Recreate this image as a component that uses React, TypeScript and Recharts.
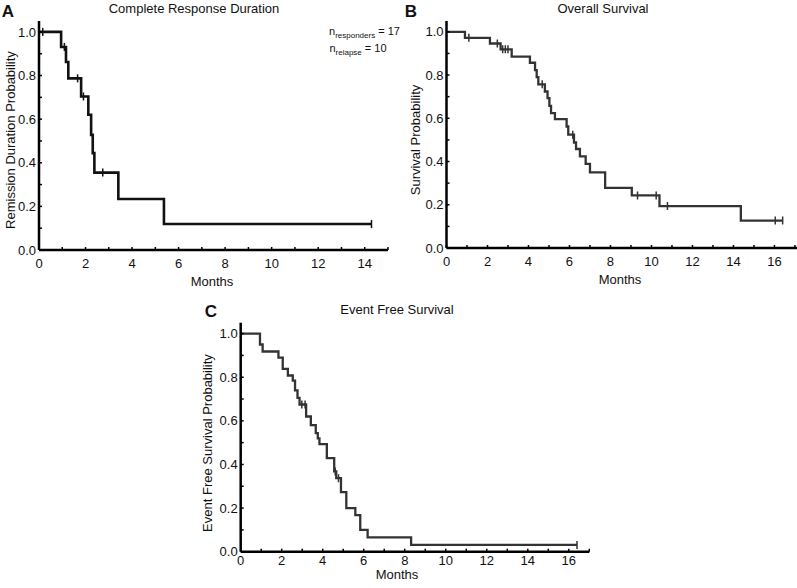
import React from 'react';
import { ComposedChart, Line, Scatter, XAxis, YAxis } from 'recharts';

// Complete response duration (panel A)
const crdTimes = [0, 0.95, 1.16, 1.26, 1.81, 2.12, 2.24, 2.31, 2.38, 3.41, 5.37, 14.29];
const crdProb = [1, 0.931, 0.862, 0.787, 0.704, 0.62, 0.528, 0.444, 0.355, 0.234, 0.119, 0.119];
const crdCensorTimes = [0.16, 1.09, 1.66, 1.91, 2.74, 14.29];
const crdCensorProb = [1, 0.931, 0.787, 0.704, 0.355, 0.119];

// Overall survival (panel B)
const osTimes = [0, 0.9, 2.12, 2.64, 3.18, 4.07, 4.32, 4.4, 4.48, 4.8, 4.93, 5.02, 5.1, 5.29, 5.86, 5.94, 6.22, 6.32, 6.51, 6.79, 7.0, 7.74, 9.04, 10.39, 14.36, 16.4];
const osProb = [1, 0.972, 0.946, 0.919, 0.885, 0.857, 0.823, 0.79, 0.757, 0.724, 0.693, 0.657, 0.624, 0.596, 0.562, 0.524, 0.488, 0.458, 0.424, 0.389, 0.35, 0.278, 0.243, 0.194, 0.127, 0.127];
const osCensorTimes = [1.09, 2.48, 2.74, 2.87, 3.0, 4.67, 6.16, 9.32, 10.23, 10.78, 16.04, 16.4];
const osCensorProb = [0.972, 0.946, 0.919, 0.919, 0.919, 0.757, 0.524, 0.243, 0.243, 0.194, 0.127, 0.127];

// Event free survival (panel C)
const efsTimes = [0, 0.94, 1.07, 1.84, 2.05, 2.3, 2.54, 2.65, 2.77, 2.87, 3.19, 3.42, 3.66, 3.76, 3.84, 4.2, 4.56, 4.66, 4.89, 5.15, 5.59, 5.83, 6.19, 8.31, 16.4];
const efsProb = [1, 0.95, 0.918, 0.89, 0.838, 0.808, 0.784, 0.74, 0.705, 0.675, 0.62, 0.58, 0.544, 0.52, 0.493, 0.429, 0.368, 0.337, 0.273, 0.2, 0.168, 0.1, 0.066, 0.031, 0.031];
const efsCensorTimes = [2.98, 3.14, 4.61, 4.77, 16.4];
const efsCensorProb = [0.675, 0.675, 0.368, 0.337, 0.031];

const probTicks = [0, 0.1, 0.2, 0.3, 0.4, 0.5, 0.6, 0.7, 0.8, 0.9, 1.0];
const monthTicksA = [0, 1, 2, 3, 4, 5, 6, 7, 8, 9, 10, 11, 12, 13, 14, 15];
const monthTicksBC = [0, 1, 2, 3, 4, 5, 6, 7, 8, 9, 10, 11, 12, 13, 14, 15, 16, 17];

const FONT = '"Liberation Sans", Arial, sans-serif';

const toPoints = (ts: number[], ps: number[]) => ts.map((t, i) => ({ t, p: ps[i] }));

const CensorMark = (props: any) => {
  const { cx, cy, stroke } = props;
  if (cx == null || cy == null) return null;
  return <line x1={cx} x2={cx} y1={cy - 4} y2={cy + 4} stroke={stroke} strokeWidth={1.5} />;
};

interface PanelProps {
  left: number;
  top: number;
  width: number;
  height: number;
  yAxisWidth: number;
  xAxisHeight: number;
  xTickMargin: number;
  marginTop: number;
  marginRight: number;
  xMax: number;
  xTicks: number[];
  times: number[];
  probs: number[];
  censorTimes: number[];
  censorProbs: number[];
  color: string;
  lineWidth: number;
}

function Panel(p: PanelProps) {
  const tickStyle = { fontSize: 13, fill: '#111', fontFamily: FONT };
  return (
    <div style={{ position: 'absolute', left: p.left, top: p.top }}>
      <ComposedChart
        width={p.width}
        height={p.height}
        margin={{ top: p.marginTop, right: p.marginRight, left: 0, bottom: 0 }}
      >
        <XAxis
          type="number"
          dataKey="t"
          domain={[0, p.xMax]}
          ticks={p.xTicks}
          interval={0}
          allowDataOverflow
          height={p.xAxisHeight}
          stroke="#000"
          axisLine={{ stroke: '#000', strokeWidth: 2.5 }}
          tickLine={{ stroke: '#000', strokeWidth: 1.5 }}
          tickSize={-3}
          tickMargin={p.xTickMargin}
          tick={tickStyle}
          tickFormatter={(v: number) => (v % 2 === 0 ? String(v) : '')}
        />
        <YAxis
          type="number"
          dataKey="p"
          domain={[0, 1.05]}
          ticks={probTicks}
          interval={0}
          allowDataOverflow
          width={p.yAxisWidth}
          axisLine={{ stroke: '#000', strokeWidth: 2.5 }}
          tickLine={{ stroke: '#000', strokeWidth: 1.5 }}
          tickSize={-3}
          tickMargin={6}
          tick={tickStyle}
          tickFormatter={(v: number) => (Math.round(v * 10) % 2 === 0 ? v.toFixed(1) : '')}
        />
        <Line
          data={toPoints(p.times, p.probs)}
          dataKey="p"
          type="stepAfter"
          stroke={p.color}
          strokeWidth={p.lineWidth}
          dot={false}
          isAnimationActive={false}
        />
        <Scatter
          data={toPoints(p.censorTimes, p.censorProbs)}
          dataKey="p"
          stroke={p.color}
          shape={(s: any) => <CensorMark {...s} stroke={p.color} />}
          isAnimationActive={false}
        />
      </ComposedChart>
    </div>
  );
}

const textBase: React.CSSProperties = {
  position: 'absolute',
  fontFamily: FONT,
  fontSize: 13,
  color: '#111',
  whiteSpace: 'nowrap',
  lineHeight: '13px',
};

function Label({ x, y, text, rotate, size, bold }: { x: number; y: number; text: string; rotate?: boolean; size?: number; bold?: boolean }) {
  return (
    <div
      style={{
        ...textBase,
        left: x,
        top: y,
        fontSize: size || 13,
        fontWeight: bold ? 700 : 400,
        transform: `translate(-50%, -50%)${rotate ? ' rotate(-90deg)' : ''}`,
      }}
    >
      {text}
    </div>
  );
}

export default function App() {
  return (
    <div style={{ position: 'absolute', left: 0, top: 0, width: 797, height: 588, background: '#fff', overflow: 'hidden' }}>
      <Panel
        left={0} top={0} width={400} height={285}
        yAxisWidth={39} xAxisHeight={35} xTickMargin={12} marginTop={21} marginRight={12}
        xMax={15} xTicks={monthTicksA}
        times={crdTimes} probs={crdProb} censorTimes={crdCensorTimes} censorProbs={crdCensorProb}
        color="#111" lineWidth={2.6}
      />
      <Panel
        left={400} top={0} width={397} height={285}
        yAxisWidth={46.5} xAxisHeight={37} xTickMargin={12} marginTop={21} marginRight={0}
        xMax={17.1} xTicks={monthTicksBC}
        times={osTimes} probs={osProb} censorTimes={osCensorTimes} censorProbs={osCensorProb}
        color="#333" lineWidth={2.3}
      />
      <Panel
        left={190} top={300} width={400} height={288}
        yAxisWidth={50.7} xAxisHeight={36.3} xTickMargin={7} marginTop={22.7} marginRight={0.7}
        xMax={17} xTicks={monthTicksBC}
        times={efsTimes} probs={efsProb} censorTimes={efsCensorTimes} censorProbs={efsCensorProb}
        color="#333" lineWidth={2.3}
      />

      <Label x={8} y={11} text="A" size={17} bold />
      <Label x={411} y={11} text="B" size={17} bold />
      <Label x={211} y={311} text="C" size={17} bold />

      <Label x={194} y={8} text="Complete Response Duration" />
      <Label x={603} y={8} text="Overall Survival" />
      <Label x={397} y={309} text="Event Free Survival" />

      <Label x={10} y={140} text="Remission Duration Probability" rotate />
      <Label x={415} y={140} text="Survival Probability" rotate />
      <Label x={207} y={443} text="Event Free Survival Probability" rotate />

      <Label x={212} y={281} text="Months" />
      <Label x={620} y={279} text="Months" />
      <Label x={397} y={574} text="Months" />

      <div style={{ ...textBase, left: 329, top: 25, fontSize: 11, lineHeight: '12px', textAlign: 'center', width: 58 }}>
        <div>n<sub style={{ fontSize: 8 }}>responders</sub> = 17</div>
        <div>n<sub style={{ fontSize: 8 }}>relapse</sub> = 10</div>
      </div>
    </div>
  );
}
